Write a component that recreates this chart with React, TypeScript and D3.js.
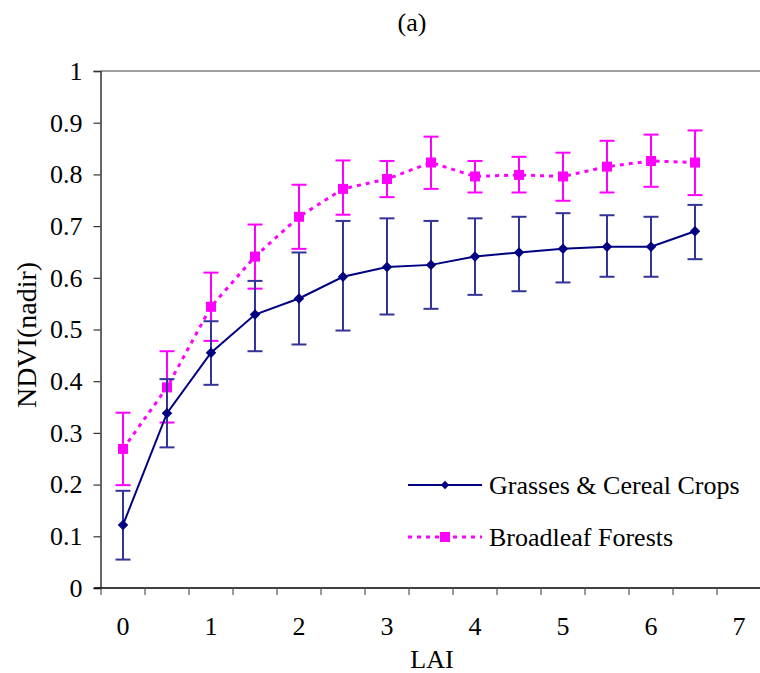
import { useRef, useEffect } from 'react';
import * as d3 from 'd3';

// LAI categories on the x axis (labels are shown on every other one)
const categories = ['0', '0.5', '1', '1.5', '2', '2.5', '3', '3.5', '4', '4.5', '5', '5.5', '6', '6.5', '7'];
const pointLai = ['0', '0.5', '1', '1.5', '2', '2.5', '3', '3.5', '4', '4.5', '5', '5.5', '6', '6.5'];

const grasses = [0.122, 0.338, 0.455, 0.529, 0.56, 0.602, 0.621, 0.625, 0.641, 0.649, 0.656, 0.66, 0.66, 0.69];
const grassesLow = [0.055, 0.272, 0.393, 0.458, 0.471, 0.498, 0.529, 0.54, 0.567, 0.574, 0.591, 0.602, 0.602, 0.636];
const grassesHigh = [0.188, 0.404, 0.516, 0.594, 0.649, 0.71, 0.715, 0.71, 0.715, 0.718, 0.725, 0.721, 0.718, 0.741];

const forests = [0.269, 0.388, 0.544, 0.641, 0.718, 0.772, 0.791, 0.823, 0.796, 0.799, 0.796, 0.815, 0.826, 0.823];
const forestsLow = [0.199, 0.32, 0.478, 0.579, 0.656, 0.722, 0.756, 0.772, 0.765, 0.765, 0.749, 0.765, 0.776, 0.76];
const forestsHigh = [0.339, 0.458, 0.61, 0.703, 0.78, 0.827, 0.826, 0.873, 0.826, 0.834, 0.842, 0.865, 0.877, 0.885];

const yTicks = [0, 0.1, 0.2, 0.3, 0.4, 0.5, 0.6, 0.7, 0.8, 0.9, 1];

const width = 760;
const height = 673;
const font = 'Liberation Serif, Times New Roman, serif';

const dims = { top: 71, left: 101, bottom: 588, right: 761 };

const NAVY = '#000080';
const NAVY_ERR = '#333399';
const MAGENTA = '#ff00ff';

const Chart = () => {
  const ref = useRef<SVGSVGElement>(null);

  useEffect(() => {
    const svg = d3.select(ref.current);
    svg.selectAll('*').remove();

    const x = d3.scaleBand().domain(categories).range([dims.left, dims.right]).padding(0);
    const y = d3.scaleLinear().domain([0, 1]).range([dims.bottom, dims.top]);
    const cx = (c: string) => (x(c) as number) + x.bandwidth() / 2;

    const label = (sel: any, size: number) =>
      sel.attr('font-family', font).style('font-family', font).style('font-size', `${size}px`).attr('fill', '#000');

    // plot area border (top), grey
    svg.append('line')
      .attr('x1', dims.left).attr('x2', dims.right)
      .attr('y1', dims.top).attr('y2', dims.top)
      .attr('stroke', '#808080').attr('stroke-width', 1.5);

    // yAxis
    const yAxis = svg.append('g')
      .attr('transform', `translate(${dims.left - 0.5},0)`)
      .call(d3.axisLeft(y).tickValues(yTicks).tickSize(7).tickPadding(11).tickFormat(d3.format('~g')));
    yAxis.attr('font-family', font);
    yAxis.select('.domain').attr('stroke', '#333').attr('stroke-width', 1.5);
    yAxis.selectAll('line').attr('stroke', '#333').attr('stroke-width', 1.2);
    label(yAxis.selectAll('text'), 26);

    // xAxis: ticks on band edges, labels on whole LAI values
    const edges = categories.map((c) => x(c) as number);
    svg.append('line')
      .attr('x1', dims.left - 7).attr('x2', dims.right)
      .attr('y1', dims.bottom).attr('y2', dims.bottom)
      .attr('stroke', '#000').attr('stroke-width', 1.5);
    svg.append('g').selectAll('line').data(edges).enter().append('line')
      .attr('x1', (d) => d).attr('x2', (d) => d)
      .attr('y1', dims.bottom).attr('y2', dims.bottom + 7)
      .attr('stroke', '#555').attr('stroke-width', 1.2);
    label(svg.append('g').selectAll('text')
      .data(categories.filter((c, i) => i % 2 === 0))
      .enter().append('text')
      .attr('x', (d) => cx(d)).attr('y', 635)
      .attr('text-anchor', 'middle')
      .text((d) => d), 26);

    // axis titles
    label(svg.append('text').attr('x', 432).attr('y', 668).attr('text-anchor', 'middle').text('LAI'), 26);
    label(svg.append('text').attr('transform', 'translate(36,335) rotate(-90)').attr('text-anchor', 'middle')
      .text('NDVI(nadir)'), 28);
    label(svg.append('text').attr('x', 412).attr('y', 31).attr('text-anchor', 'middle').text('(a)'), 26);

    const cap = 7.5;
    const errorBars = (low: number[], high: number[], color: string) => {
      const g = svg.append('g').attr('stroke', color).attr('stroke-width', 2).attr('fill', 'none');
      pointLai.forEach((c, i) => {
        g.append('line').attr('x1', cx(c)).attr('x2', cx(c)).attr('y1', y(low[i])).attr('y2', y(high[i]));
        g.append('line').attr('x1', cx(c) - cap).attr('x2', cx(c) + cap).attr('y1', y(low[i])).attr('y2', y(low[i]));
        g.append('line').attr('x1', cx(c) - cap).attr('x2', cx(c) + cap).attr('y1', y(high[i])).attr('y2', y(high[i]));
      });
    };

    const line = d3.line<number>().x((d, i) => cx(pointLai[i])).y((d) => y(d));

    // Broadleaf forests
    errorBars(forestsLow, forestsHigh, MAGENTA);
    svg.append('path').datum(forests).attr('d', line)
      .attr('fill', 'none').attr('stroke', MAGENTA).attr('stroke-width', 3)
      .attr('stroke-dasharray', '4 5');
    svg.append('g').selectAll('rect').data(forests).enter().append('rect')
      .attr('x', (d, i) => cx(pointLai[i]) - 5).attr('y', (d) => y(d) - 5)
      .attr('width', 10).attr('height', 10).attr('fill', MAGENTA);

    // Grasses & cereal crops
    errorBars(grassesLow, grassesHigh, NAVY_ERR);
    svg.append('path').datum(grasses).attr('d', line)
      .attr('fill', 'none').attr('stroke', NAVY).attr('stroke-width', 2);
    const diamond = d3.symbol().type(d3.symbolDiamond2).size(70);
    svg.append('g').selectAll('path').data(grasses).enter().append('path')
      .attr('d', diamond)
      .attr('transform', (d, i) => `translate(${cx(pointLai[i])},${y(d)})`)
      .attr('fill', NAVY);

    // legend
    const legend = svg.append('g');
    legend.append('line').attr('x1', 408).attr('x2', 482).attr('y1', 485).attr('y2', 485)
      .attr('stroke', NAVY).attr('stroke-width', 2);
    legend.append('path').attr('d', d3.symbol().type(d3.symbolDiamond2).size(45))
      .attr('transform', 'translate(445,485)').attr('fill', NAVY);
    label(legend.append('text').attr('x', 489).attr('y', 485).attr('dy', '0.35em')
      .text('Grasses & Cereal Crops'), 26);

    legend.append('line').attr('x1', 408).attr('x2', 482).attr('y1', 537).attr('y2', 537)
      .attr('stroke', MAGENTA).attr('stroke-width', 3).attr('stroke-dasharray', '4 5');
    legend.append('rect').attr('x', 440).attr('y', 532).attr('width', 10).attr('height', 10).attr('fill', MAGENTA);
    label(legend.append('text').attr('x', 489).attr('y', 537).attr('dy', '0.35em')
      .text('Broadleaf Forests'), 26);
  }, []);

  return (
    <svg ref={ref} width={width} height={height} style={{ display: 'block', background: '#fff', fontFamily: font }}></svg>
  );
};

export default function App() {
  return (
    <div style={{ position: 'absolute', left: 0, top: 0, width, height, background: '#fff' }}>
      <Chart />
    </div>
  );
}
